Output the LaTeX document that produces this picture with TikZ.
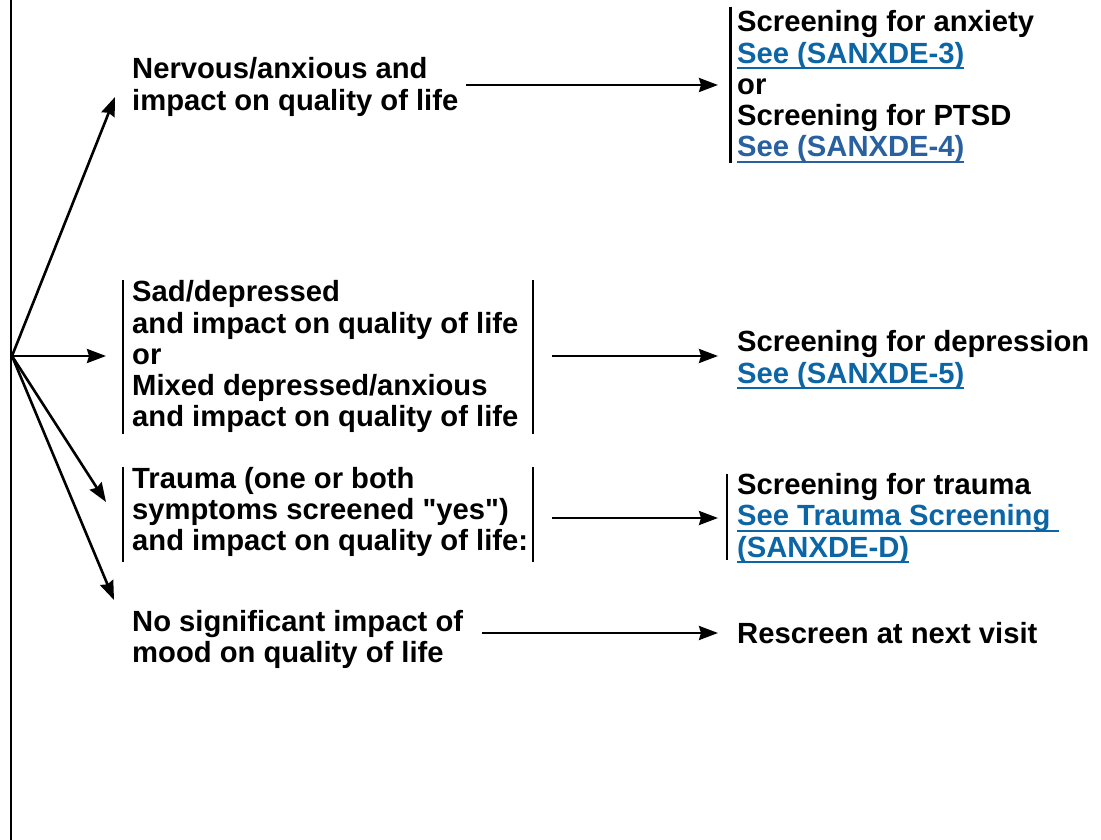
\documentclass[tikz,border=0pt]{standalone}
\usepackage{fontspec}
\setmainfont{Liberation Sans}
\usetikzlibrary{arrows.meta}
\definecolor{linkblue}{RGB}{12,102,166}
\definecolor{linkblueb}{RGB}{40,96,160}
% underlined link text with a firm rule below the baseline
\newcommand{\lnk}[2][linkblue]{\textcolor{#1}{\setbox0\hbox{#2}\rlap{\rule[-6pt]{\wd0}{2pt}}\box0}}
\begin{document}
\begin{tikzpicture}[x=1pt,y=-1pt,
  lbl/.style={font=\fontsize{29.2}{31.2}\selectfont\bfseries, align=left,
    inner sep=0pt, anchor=base west},
  flow/.style={line width=2.6pt, -{Stealth[length=19pt,width=14pt,inset=2pt]}},
  bar/.style={line width=2.6pt}]
\useasboundingbox (0,0) rectangle (1101,840);

% left rail and the point the branches leave from
\coordinate (top) at (11,0);
\coordinate (bot) at (11,840);
\coordinate (o) at (12,356);
\draw[bar] (top) -- (bot);

% outcome categories (placed by the baseline of their last line)
\node[lbl] (nerv) at (132,110.2) {Nervous/anxious and\\impact on quality of life};
\node[lbl] (sad) at (132,426.7) {Sad/depressed\\and impact on quality of life\\or\\Mixed depressed/anxious\\and impact on quality of life};
\node[lbl] (trauma) at (132,550.7) {Trauma (one or both\\symptoms screened \textquotedbl yes\textquotedbl)\\and impact on quality of life:};
\node[lbl] (nosig) at (132,662.9) {No significant impact of\\mood on quality of life};

% next steps
\node[lbl] (anx) at (737,156.7) {Screening for anxiety\\\lnk{See (SANXDE-3)}\\or\\Screening for PTSD\\\lnk[linkblueb]{See (SANXDE-4)}};
\node[lbl] (dep) at (737,383) {Screening for depression\\\lnk{See (SANXDE-5)}};
\node[lbl] (trs) at (737,557) {Screening for trauma\\\lnk{See Trauma Screening\ }\\\lnk{(SANXDE-D)}};
\node[lbl] (resc) at (737,643) {Rescreen at next visit};

% bracket bars
\draw[bar] ([shift={(-6.5,-150)}]anx.base west) -- ++(0,156);
\draw[bar] ([shift={(-9,-146.7)}]sad.base west) -- ++(0,154);
\draw[bar] ([shift={(401,-146.7)}]sad.base west) -- ++(0,154);
\draw[bar] ([shift={(-9,-83.7)}]trauma.base west) -- ++(0,94.7);
\draw[bar] ([shift={(401,-83.7)}]trauma.base west) -- ++(0,94.7);
\draw[bar] ([shift={(-10,-83)}]trs.base west) -- ++(0,86);

% branches from the rail
\draw[flow] (o) -- ([shift={(-17,-13.2)}]nerv.base west);
\draw[flow] (o) -- ([shift={(-26,-70.7)}]sad.base west);
\draw[flow] (o) -- ([shift={(-26,-48.7)}]trauma.base west);
\draw[flow] (o) -- ([shift={(-18,-62.9)}]nosig.base west);

% category to next step
\draw[flow] ([shift={(334,-25.2)}]nerv.base west) -- ([shift={(-19,-71.7)}]anx.base west);
\draw[flow] ([shift={(420,-70.7)}]sad.base west) -- ([shift={(-19,-27)}]dep.base west);
\draw[flow] ([shift={(420,-32.7)}]trauma.base west) -- ([shift={(-19,-39)}]trs.base west);
\draw[flow] ([shift={(350,-29.9)}]nosig.base west) -- ([shift={(-19,-10)}]resc.base west);
\end{tikzpicture}
\end{document}
